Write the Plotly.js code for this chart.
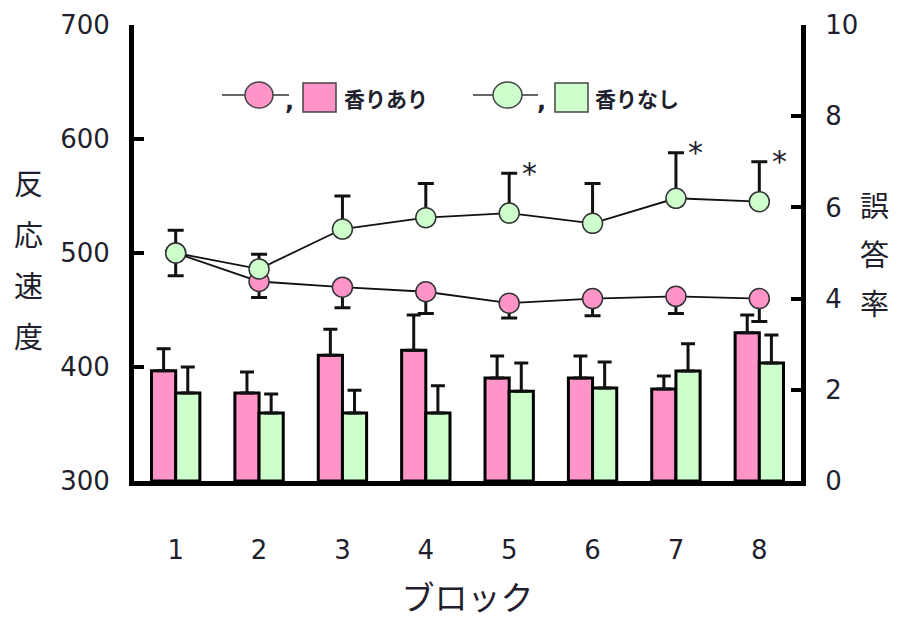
<!DOCTYPE html>
<html>
<head>
<meta charset="utf-8">
<script src="https://cdn.plot.ly/plotly-3.0.1.min.js"></script>
<style>
  html, body { margin: 0; padding: 0; background: #ffffff; }
  #chart { width: 901px; height: 620px; }
</style>
</head>
<body>
<div id="chart"></div>
<script>
// Block numbers on the x axis
const blocks = [1, 2, 3, 4, 5, 6, 7, 8];
const blockLabels = ['1', '2', '3', '4', '5', '6', '7', '8'];

// Reaction speed (left axis): mean and one-sided error
const speedScent = [500, 475, 470, 466, 456, 460, 462, 460];
const speedScentErr = [20, 14, 18, 19, 13, 15, 15, 20];
const speedNoScent = [500, 486, 521, 531, 535, 526, 548, 545];
const speedNoScentErr = [20, 13, 29, 30, 35, 35, 40, 35];

// Error rate (right axis): mean and error
const errorScent = [2.42, 1.93, 2.76, 2.87, 2.26, 2.26, 2.02, 3.25];
const errorScentErr = [0.48, 0.46, 0.57, 0.77, 0.48, 0.48, 0.28, 0.39];
const errorNoScent = [1.93, 1.49, 1.49, 1.49, 1.97, 2.04, 2.41, 2.59];
const errorNoScentErr = [0.57, 0.42, 0.50, 0.60, 0.62, 0.57, 0.60, 0.61];

// Blocks marked as significant
const significantBlocks = [5, 7, 8];

// Axis ticks
const speedTicks = [300, 400, 500, 600, 700];
const rateTicks = [0, 2, 4, 6, 8, 10];

const seriesNames = ['香りあり', '香りなし'];
const pink = '#ff94c9';
const green = '#ccffcc';
const font = '"Noto Sans CJK JP", "Noto Sans", sans-serif';
const numFont = '"DejaVu Sans", "Noto Sans", sans-serif';
const textColor = '#1f1f2e';

const zeros = blocks.map(() => 0);

// Plot-area geometry in pixels, used to place the legend keys and stacked titles
const M = { l: 134, r: 100, t: 25, b: 139 };
const W = 901 - M.l - M.r;
const H = 620 - M.t - M.b;
const px = x => (x - M.l) / W;
const py = y => (620 - M.b - y) / H;

function barTrace(values, errs, color, name) {
  return {
    type: 'bar', x: blocks, y: values, name: name, yaxis: 'y',
    marker: { color: color, line: { color: '#000', width: 3 } },
    error_y: { type: 'data', symmetric: false, array: errs, arrayminus: zeros,
               color: '#111', thickness: 3, width: 7 },
    hoverinfo: 'skip'
  };
}

function lineTrace(values, errsUp, errsDown, color, name) {
  return {
    type: 'scatter', mode: 'lines+markers', x: blocks, y: values, name: name, yaxis: 'y2',
    line: { color: '#111', width: 1.8 },
    marker: { color: color, size: 20, line: { color: '#333', width: 1.5 } },
    error_y: { type: 'data', symmetric: false, array: errsUp, arrayminus: errsDown,
               color: '#111', thickness: 3, width: 8 },
    hoverinfo: 'skip'
  };
}

const data = [
  barTrace(errorScent, errorScentErr, pink, seriesNames[0]),
  barTrace(errorNoScent, errorNoScentErr, green, seriesNames[1]),
  lineTrace(speedScent, zeros, speedScentErr, pink, seriesNames[0]),
  lineTrace(speedNoScent, speedNoScentErr, zeros, green, seriesNames[1])
];

// Asterisks above the significant blocks
const annotations = significantBlocks.map(b => {
  const i = blocks.indexOf(b);
  return {
    x: b, y: speedNoScent[i] + speedNoScentErr[i], xref: 'x', yref: 'y2',
    text: '*', showarrow: false, xshift: 20, yshift: 0,
    font: { family: numFont, size: 30, color: textColor }
  };
});

// Stacked vertical axis titles
const leftTitle = ['反', '応', '速', '度'];
const rightTitle = ['誤', '答', '率'];
leftTitle.forEach((ch, k) => annotations.push({
  x: px(28), y: py(182 + k * 51), xref: 'paper', yref: 'paper',
  text: ch, showarrow: false, xanchor: 'center', yanchor: 'middle',
  font: { family: font, size: 29, color: textColor }
}));
rightTitle.forEach((ch, k) => annotations.push({
  x: px(875), y: py(204 + k * 49), xref: 'paper', yref: 'paper',
  text: ch, showarrow: false, xanchor: 'center', yanchor: 'middle',
  font: { family: font, size: 29, color: textColor }
}));

// Legend keys: line-circle, comma, square, label
const shapes = [];
const legendItems = [
  { color: pink, lineX: [222, 289], circleX: [245, 273], commaX: 289, squareX: [303, 336], textX: 342, name: seriesNames[0] },
  { color: green, lineX: [473, 538], circleX: [493, 522], commaX: 541, squareX: [555, 588], textX: 593, name: seriesNames[1] }
];
legendItems.forEach(it => {
  shapes.push({ type: 'line', xref: 'paper', yref: 'paper',
    x0: px(it.lineX[0]), x1: px(it.lineX[1]), y0: py(95), y1: py(95),
    line: { color: '#333', width: 1.5 } });
  shapes.push({ type: 'circle', xref: 'paper', yref: 'paper',
    x0: px(it.circleX[0]), x1: px(it.circleX[1]), y0: py(108), y1: py(82),
    fillcolor: it.color, line: { color: '#444', width: 1.5 } });
  shapes.push({ type: 'rect', xref: 'paper', yref: 'paper',
    x0: px(it.squareX[0]), x1: px(it.squareX[1]), y0: py(112), y1: py(83),
    fillcolor: it.color, line: { color: '#444', width: 1.5 } });
  annotations.push({ x: px(it.commaX), y: py(101), xref: 'paper', yref: 'paper',
    text: '<b>,</b>', showarrow: false, xanchor: 'center', yanchor: 'middle',
    font: { family: numFont, size: 24, color: textColor } });
  annotations.push({ x: px(it.textX), y: py(98), xref: 'paper', yref: 'paper',
    text: '<b>' + it.name + '</b>', showarrow: false, xanchor: 'left', yanchor: 'middle',
    font: { family: font, size: 21, color: textColor } });
});

const layout = {
  width: 901, height: 620,
  margin: M,
  paper_bgcolor: '#ffffff', plot_bgcolor: '#ffffff',
  showlegend: false,
  barmode: 'group', bargap: 0.42, bargroupgap: 0,
  font: { family: font, color: textColor },
  xaxis: {
    range: [0.5, 8.5], tickvals: blocks, ticktext: blockLabels,
    showgrid: false, zeroline: false,
    showline: true, linecolor: '#000', linewidth: 5,
    ticks: '', ticklabelstandoff: 42,
    tickfont: { family: numFont, size: 26, color: textColor },
    title: { text: 'ブロック', font: { family: font, size: 33, color: textColor }, standoff: 30 },
    fixedrange: true
  },
  yaxis: {
    side: 'right', range: [0, 10], tickvals: rateTicks,
    showgrid: false, zeroline: false,
    showline: true, linecolor: '#000', linewidth: 5,
    ticks: 'inside', ticklen: 10, tickwidth: 4, tickcolor: '#000',
    ticklabelstandoff: 14,
    tickfont: { family: numFont, size: 26, color: textColor },
    fixedrange: true
  },
  yaxis2: {
    side: 'left', overlaying: 'y', range: [300, 700], tickvals: speedTicks,
    showgrid: false, zeroline: false,
    showline: true, linecolor: '#000', linewidth: 5,
    ticks: 'inside', ticklen: 10, tickwidth: 4, tickcolor: '#000',
    ticklabelstandoff: 14,
    tickfont: { family: numFont, size: 26, color: textColor },
    fixedrange: true
  },
  shapes: shapes,
  annotations: annotations
};

Plotly.newPlot('chart', data, layout, { displayModeBar: false, staticPlot: true });
</script>
</body>
</html>
